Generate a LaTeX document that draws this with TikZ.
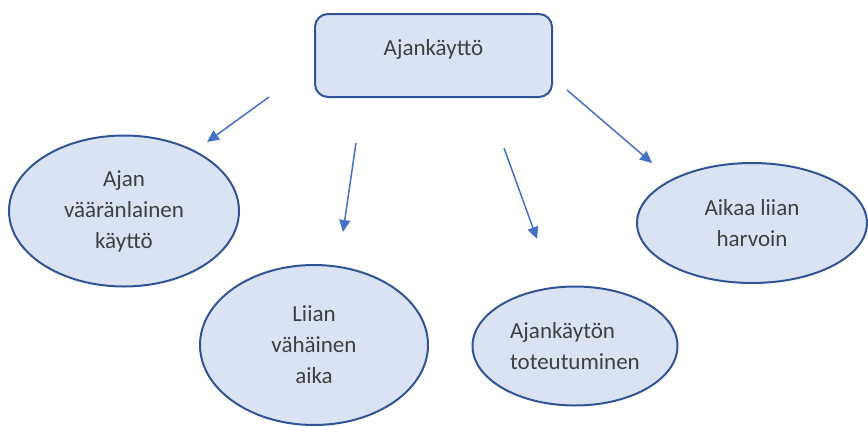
\documentclass[tikz,border=0pt]{standalone}
\usepackage{fontspec}
\setmainfont{Carlito}
\usetikzlibrary{shapes.geometric,arrows.meta}
\definecolor{boxfill}{HTML}{DAE3F3}
\definecolor{boxline}{HTML}{2F5597}
\definecolor{arrowblue}{HTML}{4472C4}
\definecolor{textgray}{HTML}{404040}

\begin{document}
\begin{tikzpicture}[x=1pt, y=-1pt,
  topic/.style={rectangle, rounded corners=13pt, draw=boxline, fill=boxfill, line width=2pt, minimum width=237pt, minimum height=83pt, text height=16pt, text depth=16pt, text=textgray, font=\fontsize{23}{31}\selectfont},
  cause/.style={ellipse, draw=boxline, fill=boxfill, line width=2pt, inner sep=0pt, align=center, text=textgray, font=\fontsize{23}{31}\selectfont},
  arr/.style={-{Triangle[length=12pt, width=11pt]}, draw=arrowblue, line width=1.5pt}]
\useasboundingbox (0,0) rectangle (868,426);

% Ylätaso
\node (ajankaytto) [topic] at (433.5,55.5) {Ajankäyttö};

% Alataso
\node (vaara) [cause, minimum width=230pt, minimum height=151pt] at (124,211) {Ajan\\vääränlainen\\käyttö};
\node (vahainen) [cause, minimum width=228pt, minimum height=160pt] at (314,345) {Liian\\vähäinen\\aika};
\node (toteutuminen) [cause, align=left, minimum width=205pt, minimum height=119pt] at (575,346) {Ajankäytön\\toteutuminen};
\node (harvoin) [cause, minimum width=230pt, minimum height=120pt] at (752,223) {Aikaa liian\\harvoin};

% Nuolten päät
\coordinate (a1s) at (269,97);  \coordinate (a1e) at (207,142);
\coordinate (a2s) at (356,143); \coordinate (a2e) at (343,232);
\coordinate (a3s) at (504,148); \coordinate (a3e) at (537,239);
\coordinate (a4s) at (567,90);  \coordinate (a4e) at (652,163);

\draw[arr] (a1s) -- (a1e);
\draw[arr] (a2s) -- (a2e);
\draw[arr] (a3s) -- (a3e);
\draw[arr] (a4s) -- (a4e);

\end{tikzpicture}
\end{document}
